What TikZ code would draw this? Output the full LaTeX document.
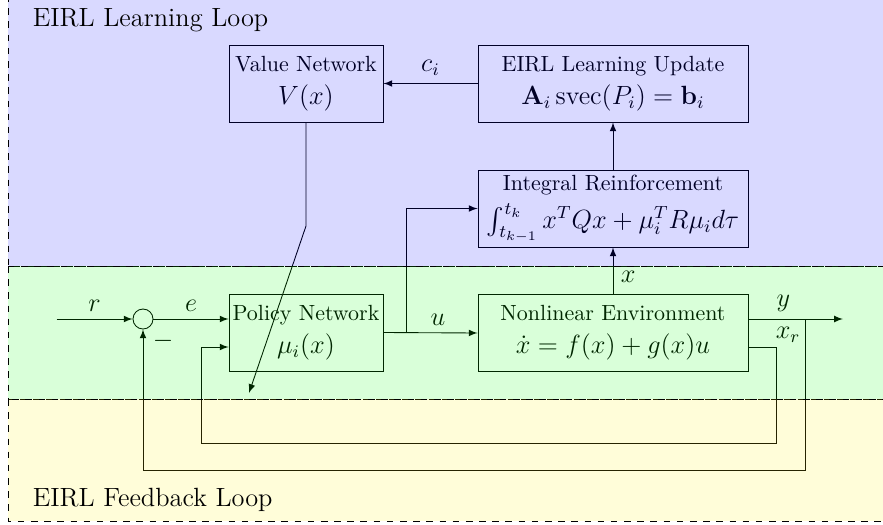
\documentclass[tikz,border=0pt]{standalone}
\usepackage{amsmath}
\usepackage{amssymb}
\usepackage{tikz}

\begin{document}
\begin{tikzpicture}[>=latex,
  block/.style={draw, rectangle, align=center, inner sep=1pt, minimum width=2.464cm, minimum height=1.232cm},
  wideblock/.style={block, minimum width=4.32cm},
  signal/.style={font=\large},
  region/.style={dashed, fill opacity=0.15}]
\useasboundingbox (0, 0) rectangle (14.128, -8.4);

\node[block] (value network) at (4.896, -1.336) {Value Network\\[3pt] \large $V(x)$};
\node[wideblock] (learning update) at (9.808, -1.336) {EIRL Learning Update\\[3pt] \large $\mathbf{A}_i\,\mathrm{svec}(P_i) = \mathbf{b}_i$};
\node[wideblock] (integral reinforcement) at (9.808, -3.336) {Integral Reinforcement\\[3pt] \large $\int_{t_{k-1}}^{t_k} x^T Q x + \mu_i^T R \mu_i d\tau$};
\node[block] (policy network) at (4.896, -5.32) {Policy Network\\[3pt] \large $\mu_i(x)$};
\node[wideblock] (environment) at (9.808, -5.328) {Nonlinear Environment\\[3pt] \large $\dot{x} = f(x) + g(x)u$};
\node[draw, circle, minimum size=0.32cm, inner sep=0] (sum) at (2.288, -5.104) {};
\node[signal] (minus) at (2.608, -5.45) {$-$};

\coordinate (r in) at (0.907, -5.104);
\coordinate (u branch) at (6.496, -5.32);
\coordinate (y out) at (13.488, -5.104);
\coordinate (y branch) at (12.88, -5.104);
\coordinate (value bend) at (4.896, -3.616);
\coordinate (value tip) at (3.984, -6.288);

\draw[->] (r in) -- node[signal, above] {$r$} (sum.west);
\draw[->] (sum.east) -- node[signal, above] {$e$} (sum -| policy network.west);
\draw[->] (policy network.east) -- node[signal, above, pos=0.58] {$u$} (environment.west);
\draw[->] (u branch) |- (integral reinforcement.west);
\draw[->] (environment.north) -- node[signal, right, pos=0.38] {$x$} (integral reinforcement.south);
\draw[->] (integral reinforcement.north) -- (learning update.south);
\draw[->] (learning update.west) -- node[signal, above] {$c_i$} (value network.east);
\draw[->] (environment.east |- sum) -- node[signal, above, pos=0.37] {$y$} node[signal, below, pos=0.42] {$x_r$} (y out);
\draw[->] (y branch) -- ++(0, -2.416) -| (sum.south);
\draw[->] ([yshift=-0.232cm]environment.east) -- ++(0.448, 0) |- (3.216, -7.088) |- ([yshift=-0.232cm]policy network.west);
\draw[->] (value network.south) -- (value bend) -- (value tip);

\draw[region, fill=blue] (0.128, 0.5) rectangle (14.5, -4.256);
\draw[region, fill=green] (0.128, -4.256) rectangle (14.5, -6.384);
\draw[region, fill=yellow] (0.128, -6.384) rectangle (14.5, -8.336);

\node[anchor=west] (learning loop) at (0.4, -0.32) {\large EIRL Learning Loop};
\node[anchor=west] (feedback loop) at (0.4, -8.0) {\large EIRL Feedback Loop};

\end{tikzpicture}
\end{document}
